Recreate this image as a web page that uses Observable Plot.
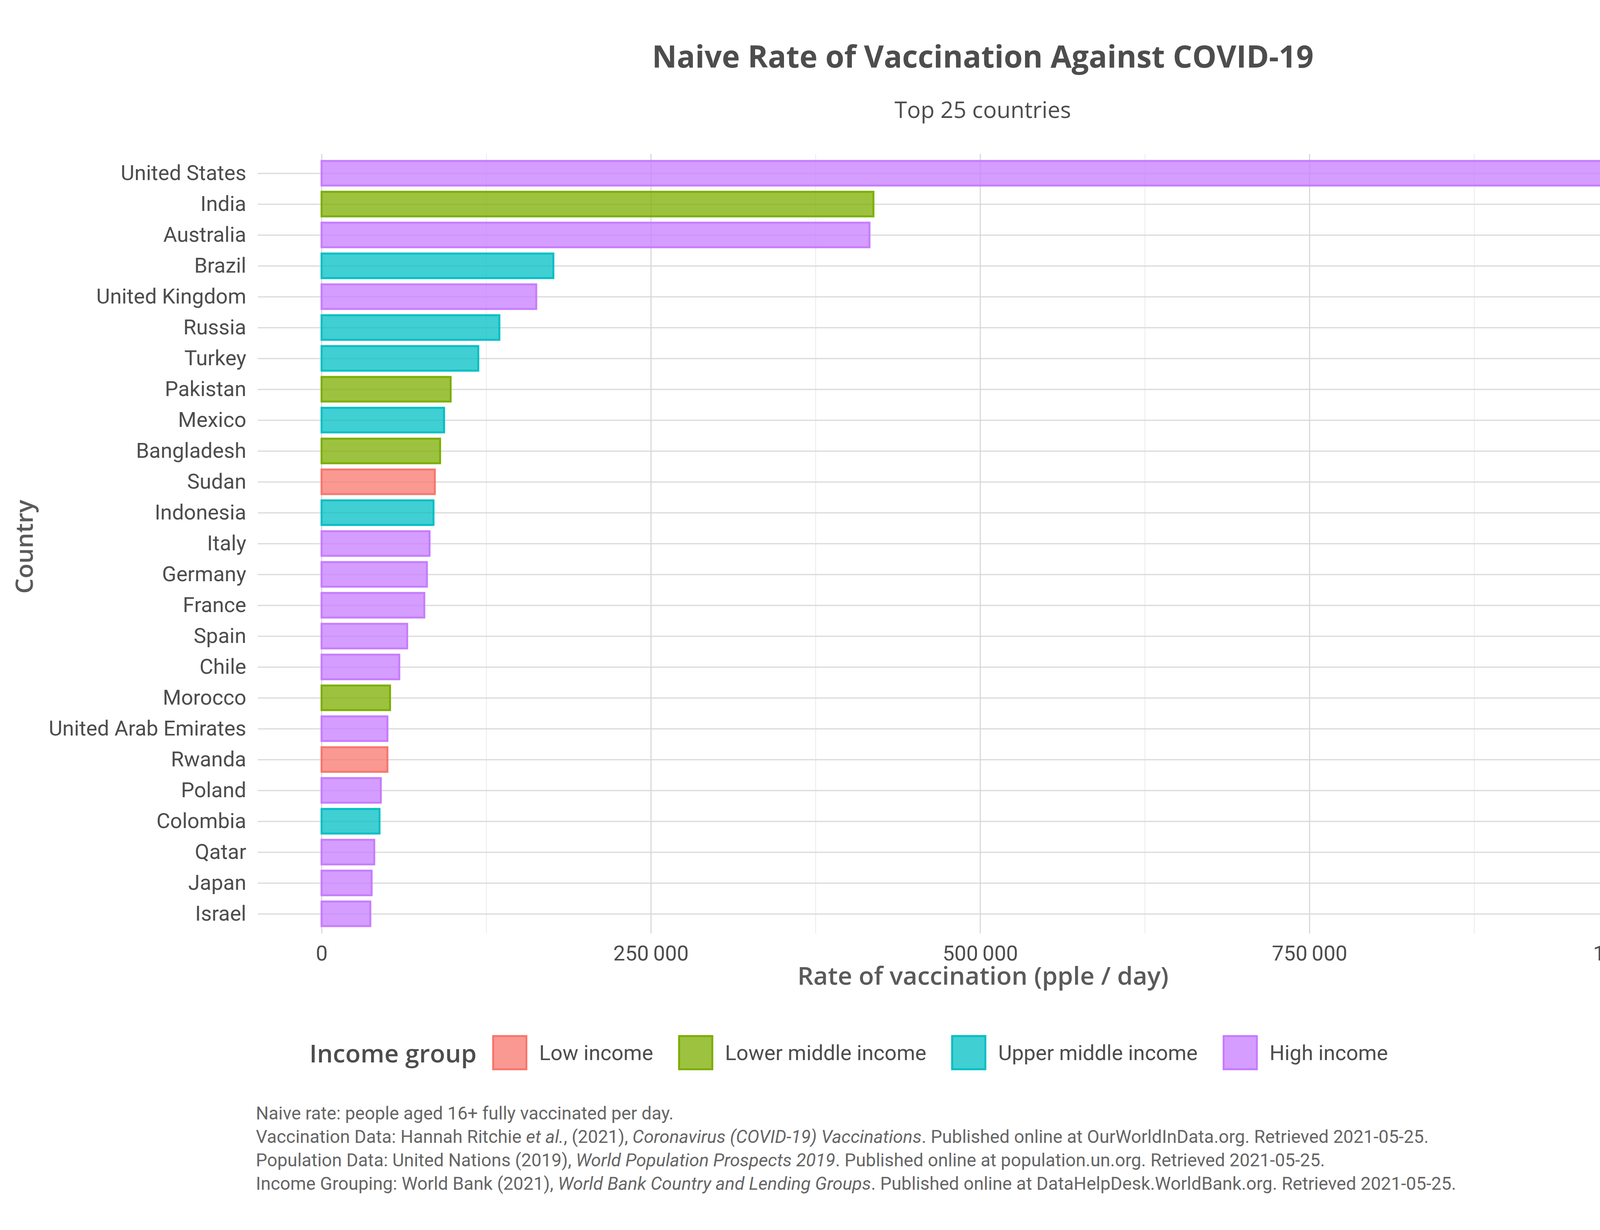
<!DOCTYPE html>
<html><head><meta charset="utf-8">
<script src="https://cdn.jsdelivr.net/npm/d3@7"></script>
<script src="https://cdn.jsdelivr.net/npm/@observablehq/plot@0.6"></script>
<style>
html,body{margin:0;padding:0;background:#fff;width:4409px;height:3149px;overflow:hidden}
body{position:relative;font-family:Roboto,sans-serif}
#chart{position:absolute;top:300px;left:0;z-index:0}
#chart svg{max-width:none}
#title{position:absolute;top:90px;left:660px;width:3712px;text-align:center;font:bold 78px "Open Sans";color:#4d4d4d;z-index:2}
#sub{position:absolute;top:245px;left:660px;width:3712px;text-align:center;font:58px/70px "Open Sans";color:#4d4d4d;z-index:2}
#ylab{position:absolute;left:18px;top:1520px;transform-origin:left top;transform:rotate(-90deg);font:600 62px "Open Sans";color:#5a5a5a;z-index:2}
#legend{position:absolute;top:2650px;left:0;width:4409px;display:flex;justify-content:center;align-items:center;font:54px Roboto;color:#4d4d4d;z-index:2}
#legend .t{font:600 64px "Open Sans";margin-right:40px}
#legend .k{width:90px;height:90px;margin:0 30px 0 0;box-sizing:border-box;border:5px solid}
#legend span.l{margin-right:64px}
#cap{position:absolute;top:2820px;left:655px;font:46px/60px Roboto;color:#666;z-index:2}
</style></head><body>
<div id="chart"></div>
<div id="title">Naive Rate of Vaccination Against COVID-19</div>
<div id="sub">Top 25 countries</div>
<div id="ylab">Country</div>
<div id="legend"></div>
<div id="cap">Naive rate: people aged 16+ fully vaccinated per day.<br>
Vaccination Data: Hannah Ritchie <i>et al.</i>, (2021), <i>Coronavirus (COVID-19) Vaccinations</i>. Published online at OurWorldInData.org. Retrieved 2021-05-25.<br>
Population Data: United Nations (2019), <i>World Population Prospects 2019</i>. Published online at population.un.org. Retrieved 2021-05-25.<br>
Income Grouping: World Bank (2021), <i>World Bank Country and Lending Groups</i>. Published online at DataHelpDesk.WorldBank.org. Retrieved 2021-05-25.</div>
<script>
const countries = ["United States","India","Australia","Brazil","United Kingdom","Russia","Turkey","Pakistan","Mexico","Bangladesh","Sudan","Indonesia","Italy","Germany","France","Spain","Chile","Morocco","United Arab Emirates","Rwanda","Poland","Colombia","Qatar","Japan","Israel"];
const rates = [1004000,419000,416000,176000,163000,135000,119000,98000,93000,90000,86000,85000,82000,80000,78000,65000,59000,52000,50000,50000,45000,44000,40000,38000,37000];
const groups = ["High income","Lower middle income","High income","Upper middle income","High income","Upper middle income","Upper middle income","Lower middle income","Upper middle income","Lower middle income","Low income","Upper middle income","High income","High income","High income","High income","High income","Lower middle income","High income","Low income","High income","Upper middle income","High income","High income","High income"];
const incomeGroups = ["Low income","Lower middle income","Upper middle income","High income"];
const colors = ["#F8766D","#7CAE00","#00BFC4","#C77CFF"];
const majorTicks = [0,250000,500000,750000,1000000];
const minorTicks = [125000,375000,625000,875000];

const data = countries.map((c,i)=>({country:c, rate:rates[i], group:groups[i]}));
const fmt = d => d3.format(",")(d).replace(/,/g,"\u2009");

const chart = Plot.plot({
  width:4409, height:2300,
  marginLeft:660, marginRight:37, marginTop:94, marginBottom:210,
  style:{fontFamily:"Roboto", fontSize:"54px", color:"#4d4d4d", background:"transparent"},
  x:{domain:[-48400,1052500]},
  y:{domain:countries, padding:0.2, tickSize:0, tickPadding:30, label:null},
  color:{domain:incomeGroups, range:colors},
  marks:[
    Plot.ruleX(minorTicks,{stroke:"#ebebeb",strokeWidth:2}),
    Plot.ruleX(majorTicks,{stroke:"#d9d9d9",strokeWidth:3}),
    Plot.ruleY(countries,{y:d=>d,stroke:"#d9d9d9",strokeWidth:3}),
    Plot.barX(data,{x:"rate",y:"country",fill:"group",fillOpacity:0.75,stroke:"group",strokeWidth:5}),
    Plot.axisX({ticks:majorTicks,tickFormat:fmt,tickSize:0,tickPadding:30,fontSize:54,
      label:"Rate of vaccination (pple / day)",labelAnchor:"center",labelArrow:"none",labelOffset:130}),
  ]
});
d3.select("#chart").append(()=>chart);
d3.select(chart).selectAll("[aria-label='x-axis label'] text").style("font-family","Open Sans").style("font-size","64px").style("font-weight","600").style("fill","#5a5a5a");

const lg = d3.select("#legend");
lg.append("span").attr("class","t").text("Income group");
incomeGroups.forEach((g,i)=>{
  lg.append("div").attr("class","k").style("border-color",colors[i]).style("background",d3.color(colors[i]).copy({opacity:0.75}));
  lg.append("span").attr("class","l").text(g);
});
</script></body></html>
